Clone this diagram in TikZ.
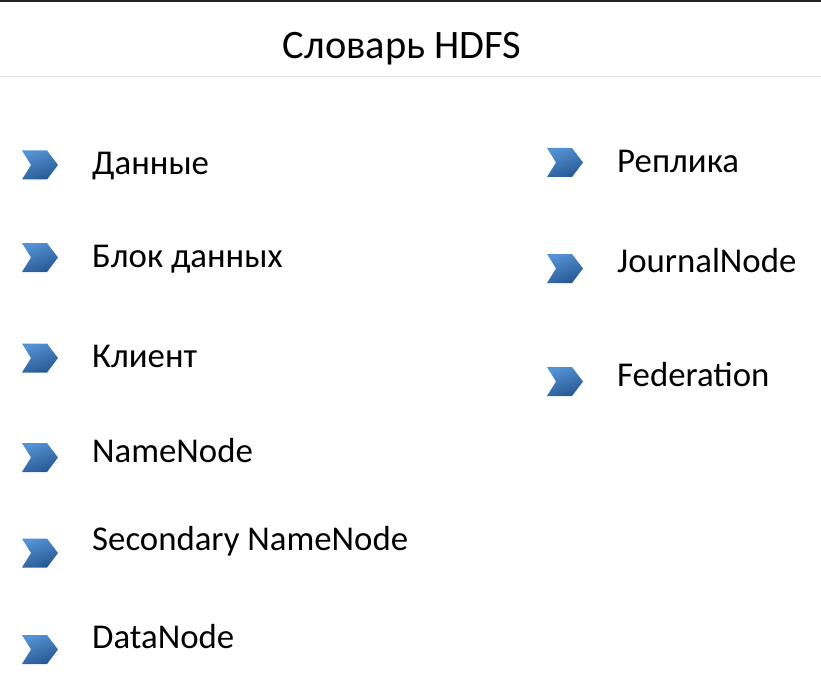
\documentclass[tikz,border=0pt]{standalone}
\usepackage{fontspec}
\setmainfont{Carlito}
\definecolor{chevtop}{RGB}{84,146,212}
\definecolor{chevbot}{RGB}{38,88,146}
\definecolor{rulegray}{RGB}{226,226,226}
\definecolor{framedark}{RGB}{34,34,34}

\begin{document}
\begin{tikzpicture}[x=1pt,y=-1pt,
  term/.style={anchor=base west,inner sep=0pt,font=\fontsize{34.8}{40}\selectfont},
  chev/.pic={
    \shade[top color=chevtop,bottom color=chevbot,shading angle=20]
      (-18,-14.5) -- (7,-14.5) -- (18,0) -- (7,14.5) -- (-18,14.5) -- (-9,0) -- cycle;
  }]
  \useasboundingbox[fill=white] (0,0) rectangle (821,695);
  \draw[framedark,line width=1.6pt] (0,0.8) -- (821,0.8);
  \draw[rulegray,line width=1pt] (0,77) -- (821,77);
  \node[anchor=base,inner sep=0pt,font=\fontsize{40.4}{46}\selectfont] (title) at (402,58.6) {Словарь HDFS};
  % left column: chevron y / text baseline / label
  \foreach \cy/\by/\lbl [count=\i] in {165/175/Данные,257.5/267/Блок данных,358/367/Клиент,
      457.5/462/NameNode,553/550/Secondary NameNode,649.5/648/DataNode}{
    \pic at (40,\cy) {chev};
    \node[term] (left\i) at (92,\by) {\lbl};
  }
  % right column
  \foreach \cy/\by/\lbl [count=\i] in {162.5/173/Реплика,268.5/272/JournalNode,381.5/386/Federation}{
    \pic at (565,\cy) {chev};
    \node[term] (right\i) at (617,\by) {\lbl};
  }
\end{tikzpicture}
\end{document}
